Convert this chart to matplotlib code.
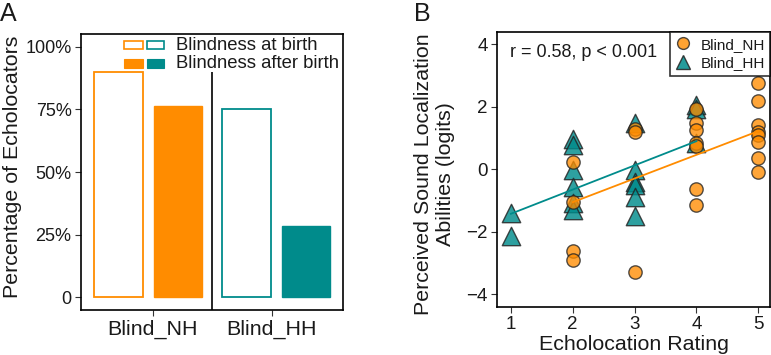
import matplotlib
matplotlib.use("Agg")
import matplotlib.pyplot as plt
from matplotlib.patches import Rectangle
from matplotlib.lines import Line2D
import numpy as np

plt.rcParams['font.family'] = ['Liberation Sans', 'DejaVu Sans']

# ---------------- Data ----------------
groups = ["Blind_NH", "Blind_HH"]
pct_at_birth = [90.0, 75.0]
pct_after_birth = [76.5, 28.6]
group_colors = ["#FF8C00", "#008B8B"]
a_yticks = [0, 25, 50, 75, 100]
a_yticklabels = ["0", "25%", "50%", "75%", "100%"]

nh_x = [2, 2, 2, 2, 3, 3, 3, 4, 4, 4, 4, 4, 4, 4, 5, 5, 5, 5, 5, 5, 5, 5]
nh_y = [0.24, -1.03, -2.61, -2.91, 1.29, 1.20, -3.27,
        1.92, 1.47, 1.26, 0.83, 0.74, -0.64, -1.15,
        2.75, 2.19, 1.42, 1.20, 1.10, 0.88, 0.37, -0.08]
hh_x = [1, 1, 2, 2, 2, 2, 2, 2, 3, 3, 3, 3, 3, 3, 4, 4, 4]
hh_y = [-1.41, -2.12, 0.96, 0.78, -0.02, -0.55, -1.09, -1.30,
        1.47, -0.02, -0.40, -0.50, -0.87, -1.49, 2.05, 1.92, 0.83]
nh_fit_x = [2, 5]
nh_fit_y = [-1.05, 1.22]
hh_fit_x = [1, 4]
hh_fit_y = [-1.42, 0.90]
b_xticks = [1, 2, 3, 4, 5]
b_yticks = [-4, -2, 0, 2, 4]

W, H = 771, 355
fig = plt.figure(figsize=(W / 100, H / 100), dpi=100)

def frac(l, t, r, b):
    return [l / W, 1 - b / H, (r - l) / W, (b - t) / H]

txt = "#1a1a1a"

# ---------------- Panel A ----------------
axA = fig.add_axes(frac(81.3, 34.3, 342.7, 310))
pos = np.array([1.0, 2.0])
off = 0.232
bw = 0.378
for i in range(2):
    axA.bar(pos[i] - off, pct_at_birth[i], width=bw, facecolor="white",
            edgecolor=group_colors[i], linewidth=1.3)
    axA.bar(pos[i] + off, pct_after_birth[i], width=bw, facecolor=group_colors[i],
            edgecolor=group_colors[i], linewidth=1.0)
axA.vlines(1.5, -5, pct_at_birth[0], color="black", linewidth=1.2)
axA.set_xlim(0.477, 2.519)
axA.set_ylim(-5, 105)
axA.set_yticks(a_yticks)
axA.set_yticklabels(a_yticklabels)
axA.set_xticks([1.035, 1.963])
axA.set_xticklabels(groups)
axA.tick_params(axis="y", labelsize=13, length=4, color="#333333", labelcolor=txt, pad=3)
axA.tick_params(axis="x", labelsize=15.4, length=4, color="#333333", labelcolor=txt, pad=3)
for s in axA.spines.values():
    s.set_linewidth(1.2)
axA.set_ylabel("Percentage of Echolocators", fontsize=15.4, color=txt)
axA.yaxis.set_label_coords(-0.226, 0.519)

# manual legend (figure pixel coordinates)
def fig_rect(l, t, r, b, **kw):
    fig.patches.append(Rectangle((l / W, 1 - b / H), (r - l) / W, (b - t) / H,
                                 transform=fig.transFigure, figure=fig, **kw))

legend_labels = ["Blindness at birth", "Blindness after birth"]
rows = [(41, 49), (59, 67.5)]
cols = [(124, 142.7), (146.7, 164)]
for ci, (l, r) in enumerate(cols):
    t, b = rows[0]
    fig_rect(l, t, r, b, facecolor="white", edgecolor=group_colors[ci], linewidth=1.2)
    t, b = rows[1]
    fig_rect(l, t, r, b, facecolor=group_colors[ci], edgecolor=group_colors[ci], linewidth=0.8)
for lab, (t, b) in zip(legend_labels, rows):
    fig.text(176 / W, 1 - ((t + b) / 2) / H, lab, fontsize=13.3, color=txt,
             va="center", ha="left")

fig.text(0 / W, 1 - 21 / H, "A", fontsize=18, color=txt)

# ---------------- Panel B ----------------
axB = fig.add_axes(frac(497.3, 32.3, 770, 306.7))
axB.scatter(hh_x, hh_y, marker="^", s=175, facecolor="#008B8B", alpha=0.82,
            edgecolor="#222222", linewidth=1.0, zorder=2)
axB.scatter(nh_x, nh_y, marker="o", s=92, facecolor="#FF8C00", alpha=0.78,
            edgecolor="#222222", linewidth=1.0, zorder=3)
axB.plot(hh_fit_x, hh_fit_y, color="#008B8B", linewidth=1.3, zorder=4)
axB.plot(nh_fit_x, nh_fit_y, color="#FF8C00", linewidth=1.3, zorder=4)
axB.set_xlim(0.78, 5.19)
axB.set_ylim(-4.39, 4.38)
axB.set_xticks(b_xticks)
axB.set_yticks(b_yticks)
axB.set_yticklabels(["\u22124", "\u22122", "0", "2", "4"])
axB.tick_params(labelsize=13.5, length=4, color="#333333", labelcolor=txt, pad=3)
for s in axB.spines.values():
    s.set_linewidth(1.2)
axB.set_xlabel("Echolocation Rating", fontsize=15.4, color=txt, labelpad=1)
axB.set_ylabel("Perceived Sound Localization\nAbilities (logits)", fontsize=15.4,
               color=txt, linespacing=1.2)
axB.yaxis.set_label_coords(-0.155, 0.484)
axB.text(0.045, 0.927, "r = 0.58, p < 0.001", transform=axB.transAxes,
         fontsize=13, color=txt, va="center", ha="left")
hB = [Line2D([], [], marker="o", linestyle="none", markersize=8.5,
             markerfacecolor="#FF8C00", alpha=0.8, markeredgecolor="#222222"),
      Line2D([], [], marker="^", linestyle="none", markersize=10.5,
             markerfacecolor="#008B8B", alpha=0.85, markeredgecolor="#222222")]
legB = axB.legend(hB, ["Blind_NH", "Blind_HH"], loc="upper right",
                  bbox_to_anchor=(1.0, 1.0), borderaxespad=0, fancybox=False,
                  edgecolor="black", fontsize=11, handlelength=1.0,
                  handletextpad=0.6, labelspacing=0.3, borderpad=0.35)
legB.get_frame().set_linewidth(1.2)
for t in legB.get_texts():
    t.set_color(txt)

fig.text(414 / W, 1 - 21 / H, "B", fontsize=18, color=txt)

fig.savefig("out.png", dpi=100)
